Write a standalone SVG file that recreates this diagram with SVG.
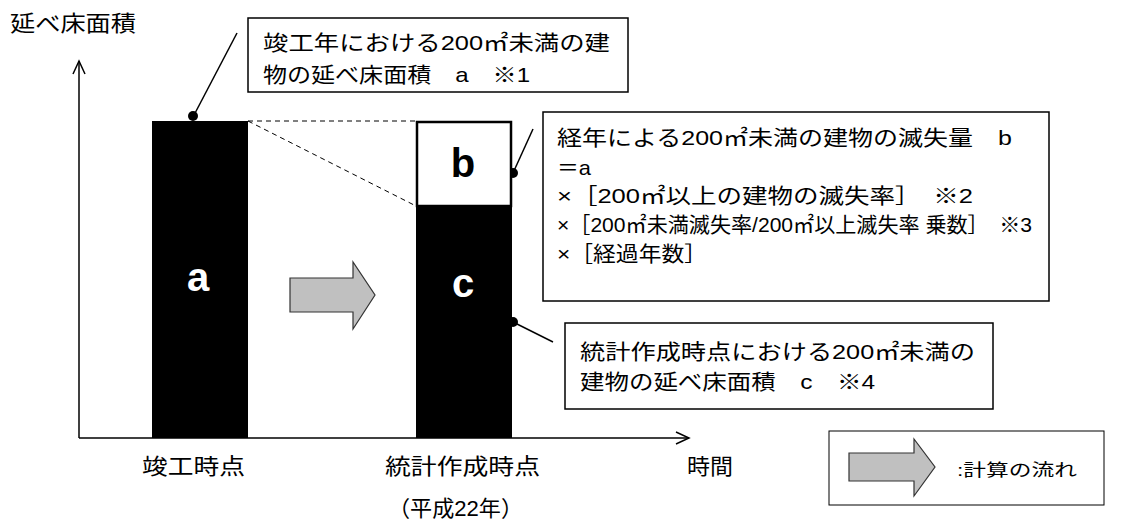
<svg xmlns="http://www.w3.org/2000/svg" width="1124" height="521" viewBox="0 0 1124 521">
<defs>
<style>
text{font-family:"Liberation Sans","Noto Sans CJK JP",sans-serif;fill:#000}
.t{font-size:21px}
.lbl{font-size:22px}
.big{font-size:40px;font-weight:bold}
.box{fill:#fff;stroke:#000;stroke-width:1.5}
.lead{stroke:#000;stroke-width:1.5;fill:none}
.axis{stroke:#000;stroke-width:1.5;fill:none}
.dash{stroke:#000;stroke-width:1;stroke-dasharray:5 4;fill:none}
.flow{fill:#c0c0c0;stroke:#333;stroke-width:1.2}
</style>
</defs>
<rect width="1124" height="521" fill="#fff"/>
<g id="axes">
<line class="axis" x1="79" y1="61" x2="79" y2="438"/>
<polyline class="axis" points="73,74 79,61 85,74"/>
<line class="axis" x1="79" y1="438" x2="689" y2="438"/>
<polyline class="axis" points="676,432 689,438 676,444"/>
<text class="lbl" x="10" y="31" textLength="126" lengthAdjust="spacingAndGlyphs">延べ床面積</text>
<text class="lbl" x="142" y="474" textLength="103" lengthAdjust="spacingAndGlyphs">竣工時点</text>
<text class="lbl" x="385" y="474" textLength="155" lengthAdjust="spacingAndGlyphs">統計作成時点</text>
<text class="lbl" x="388" y="516" textLength="135" lengthAdjust="spacingAndGlyphs">（平成22年）</text>
<text class="lbl" x="687" y="474" textLength="46" lengthAdjust="spacingAndGlyphs">時間</text>
</g>
<g id="connectors">
<line class="dash" x1="248" y1="121" x2="416" y2="121"/>
<line class="dash" x1="248" y1="121" x2="416" y2="206"/>
<line class="lead" x1="193" y1="117" x2="237" y2="33"/>
<circle cx="193" cy="116" r="5"/>
<line class="lead" x1="513" y1="173" x2="533" y2="129"/>
<circle cx="513" cy="173" r="5"/>
<line class="lead" x1="513" y1="322" x2="553" y2="342"/>
<circle cx="513" cy="322" r="5"/>
</g>
<g id="bar-a">
<rect x="152" y="121" width="96" height="317" fill="#000"/>
<text class="big" x="198" y="291" text-anchor="middle" style="fill:#fff">a</text>
</g>
<g id="bar-b">
<rect x="417" y="122" width="94" height="84" fill="#fff" stroke="#000" stroke-width="2.5"/>
<text class="big" x="463" y="177" text-anchor="middle">b</text>
</g>
<g id="bar-c">
<rect x="416" y="206" width="96" height="232" fill="#000"/>
<text class="big" x="463" y="297" text-anchor="middle" style="fill:#fff">c</text>
</g>
<g id="flow-arrow">
<polygon class="flow" points="290,278 353,278 353,262 375,295 353,329 353,312 290,312"/>
</g>
<g id="note-a">
<rect class="box" x="248" y="18" width="380" height="74"/>
<text class="t" x="263" y="50" textLength="347" lengthAdjust="spacingAndGlyphs">竣工年における200㎡未満の建</text>
<text class="t" x="263" y="82" textLength="267" lengthAdjust="spacingAndGlyphs">物の延べ床面積　a　※1</text>
</g>
<g id="note-b">
<rect class="box" x="543" y="112" width="506" height="189"/>
<text class="t" x="557" y="145" textLength="455" lengthAdjust="spacingAndGlyphs">経年による200㎡未満の建物の滅失量　b</text>
<text class="t" x="557" y="175" textLength="34" lengthAdjust="spacingAndGlyphs">＝a</text>
<text class="t" x="557" y="203" textLength="416" lengthAdjust="spacingAndGlyphs">×［200㎡以上の建物の滅失率］　※2</text>
<text class="t" x="557" y="232" textLength="475" lengthAdjust="spacingAndGlyphs">×［200㎡未満滅失率/200㎡以上滅失率 乗数］　※3</text>
<text class="t" x="557" y="261" textLength="150" lengthAdjust="spacingAndGlyphs">×［経過年数］</text>
</g>
<g id="note-c">
<rect class="box" x="565" y="323" width="428" height="86"/>
<text class="t" x="580" y="359" textLength="395" lengthAdjust="spacingAndGlyphs">統計作成時点における200㎡未満の</text>
<text class="t" x="580" y="389" textLength="295" lengthAdjust="spacingAndGlyphs">建物の延べ床面積　c　※4</text>
</g>
<g id="legend">
<rect class="box" x="829" y="431" width="275" height="74" style="stroke-width:1"/>
<polygon class="flow" points="849,453 914,453 914,439 935,467 914,496 914,481 849,481"/>
<text x="957" y="476" style="font-size:17px" textLength="120" lengthAdjust="spacingAndGlyphs">:計算の流れ</text>
</g>
</svg>
